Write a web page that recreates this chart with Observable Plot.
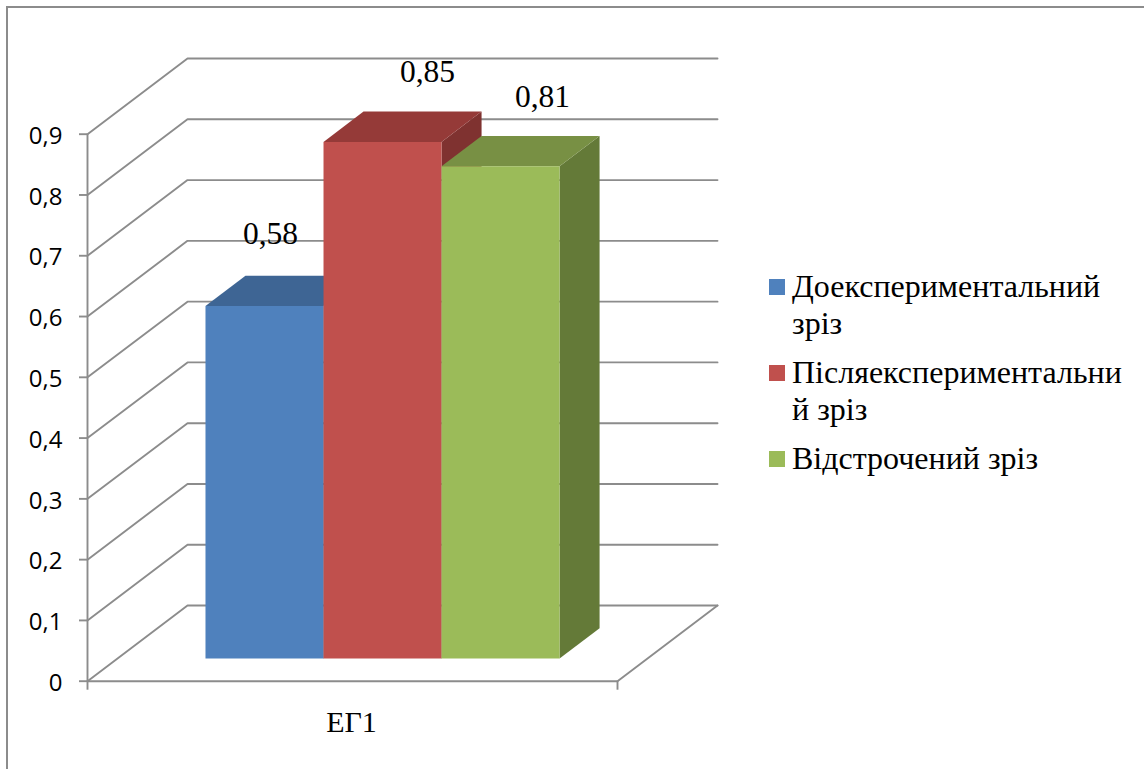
<!DOCTYPE html>
<html lang="uk">
<head>
<meta charset="utf-8">
<title>ЕГ1</title>
<script src="https://cdn.jsdelivr.net/npm/d3@7"></script>
<script src="https://cdn.jsdelivr.net/npm/@observablehq/plot@0.6"></script>
<style>
  html, body { margin: 0; padding: 0; background: #fff; }
  #page { position: relative; width: 1144px; height: 769px; overflow: hidden; }
  #frame { position: absolute; left: 6px; top: 6px; right: -4px; bottom: -4px;
           border-left: 2px solid #8c8c8c; border-top: 2px solid #8c8c8c; }
  #chart { position: absolute; left: 0; top: 0; }
  #chart svg { overflow: visible; }
  #legend { position: absolute; left: 769px; top: 0; font-family: "Liberation Serif", serif;
            font-size: 32px; line-height: 37px; color: #000; white-space: nowrap; }
  .entry { position: absolute; left: 0; padding-left: 23px; }
  .swatch { position: absolute; left: 0; top: 11px; width: 16px; height: 16px; }
</style>
</head>
<body>
<div id="page">
  <div id="frame"></div>
  <div id="chart"></div>
  <div id="legend"></div>
</div>
<script>
// Values of the single group, one per survey stage
const category = "ЕГ1";
const seriesNames = ["Доекспериментальний\nзріз", "Післяекспериментальни\nй зріз", "Відстрочений зріз"];
const seriesValues = [0.58, 0.85, 0.81];
const yTicks = [0, 0.1, 0.2, 0.3, 0.4, 0.5, 0.6, 0.7, 0.8, 0.9];

// Face colours for each column
const frontColors = ["#4f81bd", "#c0504d", "#9bbb59"];
const topColors = ["#3e6594", "#953a38", "#789044"];
const sideColors = ["#335379", "#7f3230", "#647a38"];

// Oblique projection: depth 1 shifts a point this far along the x and y scales
const depthX = 0.1887;
const depthY = 0.1245;
const project = (u, v, d) => ({x: u + d * depthX, y: v + d * depthY});

// Column layout on the floor, in fractions of the category width and the depth
const columnStart = 0.166;
const columnWidth = 0.2227;
const depthFront = 0.3;
const depthBack = 0.7;

// Offsets of the value labels from the column tops, in pixels
const labelShiftX = [6, 45, 42];
const labelShiftY = [-72, -70, -69];
const legendTops = [268, 354, 440];

const format = (d) => String(d).replace(".", ",");

// Wall and floor grid: side wall diagonals, back wall lines, floor outline
const gridPaths = [
  ...yTicks.flatMap((v, i) => [
    {id: `s${i}`, ...project(0, v, 0)},
    {id: `s${i}`, ...project(0, v, 1)},
    {id: `s${i}`, ...project(1, v, 1)}
  ]),
  {id: "floor", ...project(0, 0, 0)},
  {id: "floor", ...project(1, 0, 0)},
  {id: "floor", ...project(1, 0, 1)}
];

// Three visible faces per column, in back-to-front paint order
const faces = seriesValues.flatMap((value, i) => {
  const u0 = columnStart + i * columnWidth;
  const u1 = u0 + columnWidth;
  const poly = (id, color, corners) => corners.map(([u, v, d]) => ({id: `${id}${i}`, color, ...project(u, v, d)}));
  return [
    ...poly("side", sideColors[i], [[u1, 0, depthFront], [u1, 0, depthBack], [u1, value, depthBack], [u1, value, depthFront]]),
    ...poly("top", topColors[i], [[u0, value, depthFront], [u1, value, depthFront], [u1, value, depthBack], [u0, value, depthBack]]),
    ...poly("front", frontColors[i], [[u0, 0, depthFront], [u1, 0, depthFront], [u1, value, depthFront], [u0, value, depthFront]])
  ];
});

const gridColor = "#8c8c8c";
const gridWidth = 1.9;
const serif = "Liberation Serif";

// One text mark per value label, each with its own pixel offset from the column top
const valueLabelMarks = seriesValues.map((value, i) => {
  const anchor = project(columnStart + (i + 0.5) * columnWidth, value, depthFront);
  return Plot.text([format(value)], {
    x: [anchor.x],
    y: [anchor.y],
    text: (d) => d,
    dx: labelShiftX[i],
    dy: labelShiftY[i],
    fontFamily: serif,
    fontSize: 31.5,
    fill: "#000"
  });
});

const chart = Plot.plot({
  width: 1144,
  height: 769,
  marginLeft: 87,
  marginRight: 527,
  marginTop: 133.7,
  marginBottom: 88.3,
  style: {background: "transparent"},
  x: {domain: [0, 1], axis: null},
  y: {domain: [0, 0.9], axis: null},
  marks: [
    Plot.line(gridPaths, {x: "x", y: "y", z: "id", stroke: gridColor, strokeWidth: gridWidth}),
    Plot.ruleX([0], {y1: 0, y2: 0.9, stroke: gridColor, strokeWidth: gridWidth}),
    // Tick marks and tick labels are separate so the labels can sit slightly lower
    Plot.axisY({ticks: yTicks, tickSize: 8, stroke: gridColor, strokeWidth: gridWidth, fill: "none", label: null}),
    Plot.axisY({
      ticks: yTicks,
      tickFormat: format,
      tickSize: 8,
      tickPadding: 17,
      dy: 2,
      fontSize: 24,
      fontFamily: "Open Sans",
      stroke: "none",
      fill: "#000",
      label: null
    }),
    Plot.axisX({ticks: [0, 1], tickSize: 9, stroke: gridColor, strokeWidth: gridWidth, fill: "none", label: null}),
    Plot.line(faces, {x: "x", y: "y", z: "id", fill: "color", stroke: "none", curve: "linear-closed"}),
    ...valueLabelMarks,
    Plot.text([category], {
      x: [0.5],
      y: [0],
      dx: -1,
      dy: 41,
      text: (d) => d,
      fontFamily: serif,
      fontSize: 30,
      fill: "#000"
    })
  ]
});

document.getElementById("chart").append(chart);

// Legend to the right of the plot area
const legend = document.getElementById("legend");
seriesNames.forEach((name, i) => {
  const entry = document.createElement("div");
  entry.className = "entry";
  entry.style.top = `${legendTops[i]}px`;
  name.split("\n").forEach((line) => {
    const row = document.createElement("div");
    row.textContent = line;
    entry.append(row);
  });
  const swatch = document.createElement("span");
  swatch.className = "swatch";
  swatch.style.background = frontColors[i];
  entry.append(swatch);
  legend.append(entry);
});
</script>
</body>
</html>
